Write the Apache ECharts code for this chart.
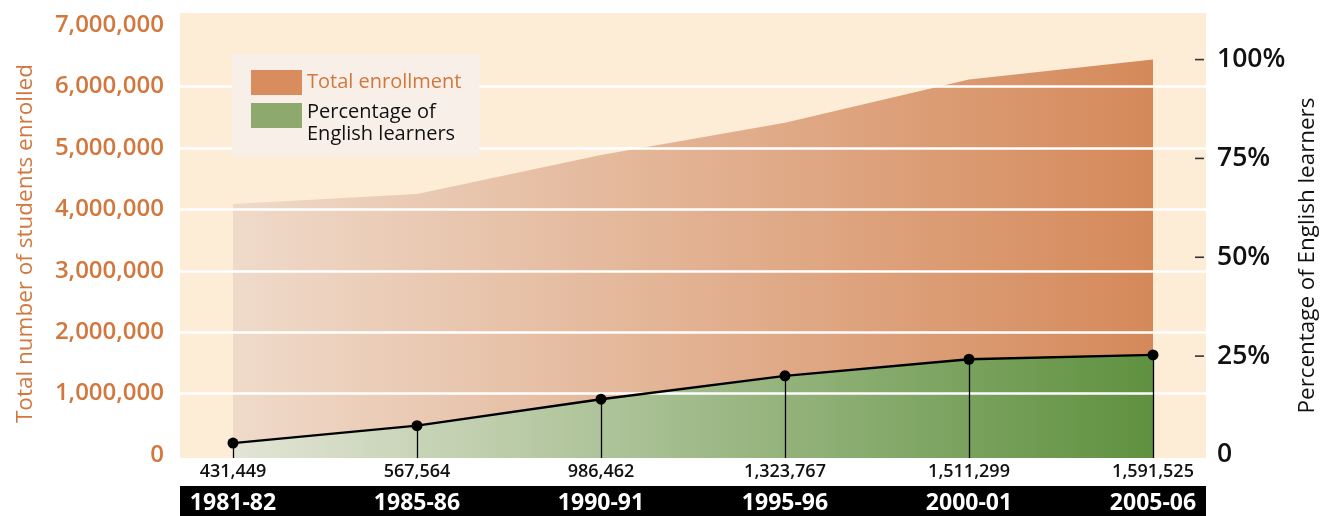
<!DOCTYPE html>
<html><head><meta charset="utf-8">
<script src="https://cdn.jsdelivr.net/npm/echarts@6/dist/echarts.min.js"></script>
<style>html,body{margin:0;padding:0;background:#fff}#c{width:1320px;height:516px}</style>
</head><body><div id="c"></div>
<script>
// ---- data ----
const years = ['1981-82', '1985-86', '1990-91', '1995-96', '2000-01', '2005-06'];
const elCounts = ['431,449', '567,564', '986,462', '1,323,767', '1,511,299', '1,591,525'];
const totalEnrollment = [4088000, 4250000, 4885000, 5412000, 6118000, 6444000];
const elPercent = [3.0, 7.4, 14.1, 20.0, 24.2, 25.3];
const leftTickValues = [0, 1000000, 2000000, 3000000, 4000000, 5000000, 6000000, 7000000];
const leftGridValues = [1000000, 2000000, 3000000, 4000000, 5000000, 6000000];
const rightTickValues = [0, 25, 50, 75, 100];

// ---- scale settings ----
const LEFT_MIN = -50000, LEFT_MAX = 7200000;
const PER_PCT = 64410; // left-axis units per percent (100% = 2005-06 total)
const RIGHT_MIN = LEFT_MIN / PER_PCT, RIGHT_MAX = LEFT_MAX / PER_PCT;
const X_MIN = -0.288, X_MAX = years.length - 1 + 0.288;
const xIdx = years.map((_, i) => i);

const ORANGE_TXT = '#D2773D';
const FONT = "'Open Sans', 'Noto Sans', sans-serif";

const chart = echarts.init(document.getElementById('c'), null, {renderer: 'canvas'});
chart.setOption({
  animation: false,
  textStyle: {fontFamily: FONT},
  grid: {left: 180, right: 114, top: 13, bottom: 58, show: true, backgroundColor: '#FDECD6', borderWidth: 0,
    containLabel: false, outerBoundsMode: 'none'},
  graphic: [
    {type: 'rect', left: 180, top: 486, z: 0, silent: true, shape: {width: 1026, height: 30}, style: {fill: '#000'}}
  ],
  legend: {
    left: 232, top: 54, orient: 'vertical', selectedMode: false,
    backgroundColor: '#F8F0E8', padding: [16, 18, 12, 19],
    icon: 'rect', itemWidth: 51, itemHeight: 25, itemGap: -9,
    textStyle: {fontFamily: FONT, fontSize: 20, lineHeight: 22,
      rich: {
        s: {fontSize: 8, lineHeight: 15},
        a: {fontSize: 20, lineHeight: 22, color: '#111', fontFamily: FONT}
      }
    },
    data: [
      {name: 'Total enrollment', itemStyle: {color: '#D98C5E', borderWidth: 0}, textStyle: {color: ORANGE_TXT}},
      {name: 'Percentage of English learners', itemStyle: {color: '#8EA96E', borderWidth: 0}, textStyle: {color: '#111'}}
    ],
    formatter: n => n === 'Percentage of English learners'
      ? '{s| }\n{a|Percentage of}\n{a|English learners}' : n
  },
  xAxis: [
    {
      type: 'value', min: X_MIN, max: X_MAX,
      axisLine: {show: false}, axisTick: {show: false}, splitLine: {show: false},
      axisLabel: {customValues: xIdx, formatter: v => elCounts[Math.round(v)], margin: 5,
        color: '#111', fontSize: 18, fontWeight: 600, fontFamily: FONT}
    },
    {
      type: 'value', min: X_MIN, max: X_MAX, position: 'bottom', z: 5,
      axisLine: {show: false}, axisTick: {show: false}, splitLine: {show: false},
      axisLabel: {customValues: xIdx, formatter: v => years[Math.round(v)], margin: 45, verticalAlign: 'middle',
        color: '#fff', fontSize: 23, fontWeight: 'bold', fontFamily: FONT}
    }
  ],
  yAxis: [
    {
      type: 'value', min: LEFT_MIN, max: LEFT_MAX, position: 'left', z: 3,
      name: 'Total number of students enrolled', nameLocation: 'middle', nameRotate: 90, nameGap: 143,
      nameTextStyle: {color: ORANGE_TXT, fontSize: 22.5, fontFamily: FONT, padding: [0, 16, 0, 0]},
      axisLine: {show: false},
      axisTick: {show: false, customValues: leftGridValues},
      splitLine: {show: true, lineStyle: {color: '#ffffff', width: 2.5}},
      axisLabel: {customValues: leftTickValues, margin: 16, color: ORANGE_TXT, fontSize: 24, fontWeight: 600, fontFamily: FONT,
        formatter: v => v.toLocaleString('en-US')}
    },
    {
      type: 'value', min: RIGHT_MIN, max: RIGHT_MAX, position: 'right',
      name: 'Percentage of English learners', nameLocation: 'middle', nameRotate: 90, nameGap: 81,
      nameTextStyle: {color: '#111', fontSize: 22.4, fontFamily: FONT, padding: [0, 40, 0, 0]},
      axisLine: {show: false},
      axisTick: {show: false},
      splitLine: {show: false},
      axisLabel: {customValues: rightTickValues, margin: -11, align: 'left', verticalAlign: 'middle',
        color: '#111', fontSize: 26.5, fontWeight: 600, fontFamily: FONT,
        formatter: v => (v === 0 ? '{sp|}' : '{d|}') + '{g|}' + (v === 0 ? '0' : v + '%'),
        rich: {
          d: {width: 9, height: 1.6, backgroundColor: '#333', verticalAlign: 'middle'},
          sp: {width: 9, height: 1.6},
          g: {width: 13}
        }
      }
    }
  ],
  series: [
    {
      name: 'Total enrollment', type: 'line', xAxisIndex: 0, yAxisIndex: 0, z: 1,
      data: totalEnrollment.map((v, i) => [i, v]),
      symbol: 'none', lineStyle: {width: 0},
      itemStyle: {color: '#D98C5E'},
      areaStyle: {origin: 'start', opacity: 1,
        color: new echarts.graphic.LinearGradient(0, 0, 1, 0, [
          {offset: 0, color: '#EFDACA'}, {offset: 1, color: '#D5895A'}])}
    },
    {
      name: 'Percentage of English learners', type: 'line', xAxisIndex: 0, yAxisIndex: 1, z: 2,
      data: elPercent.map((v, i) => [i, v]),
      symbol: 'none', lineStyle: {width: 0},
      itemStyle: {color: '#8EA96E'},
      areaStyle: {origin: 'start', opacity: 1,
        color: new echarts.graphic.LinearGradient(0, 0, 1, 0, [
          {offset: 0, color: '#E3E5D6'}, {offset: 1, color: '#5F913F'}])}
    },
    {
      name: 'EL line', type: 'line', xAxisIndex: 0, yAxisIndex: 1, z: 5,
      data: elPercent.map((v, i) => [i, v]),
      symbol: 'circle', symbolSize: 11,
      lineStyle: {color: '#000', width: 2.4},
      itemStyle: {color: '#000'},
      markLine: {
        silent: true, symbol: ['none', 'none'], label: {show: false},
        lineStyle: {color: '#000', width: 1.3, type: 'solid'},
        data: elPercent.map((v, i) => [{coord: [i, RIGHT_MIN]}, {coord: [i, v]}])
      }
    }
  ]
});
</script>
</body></html>
